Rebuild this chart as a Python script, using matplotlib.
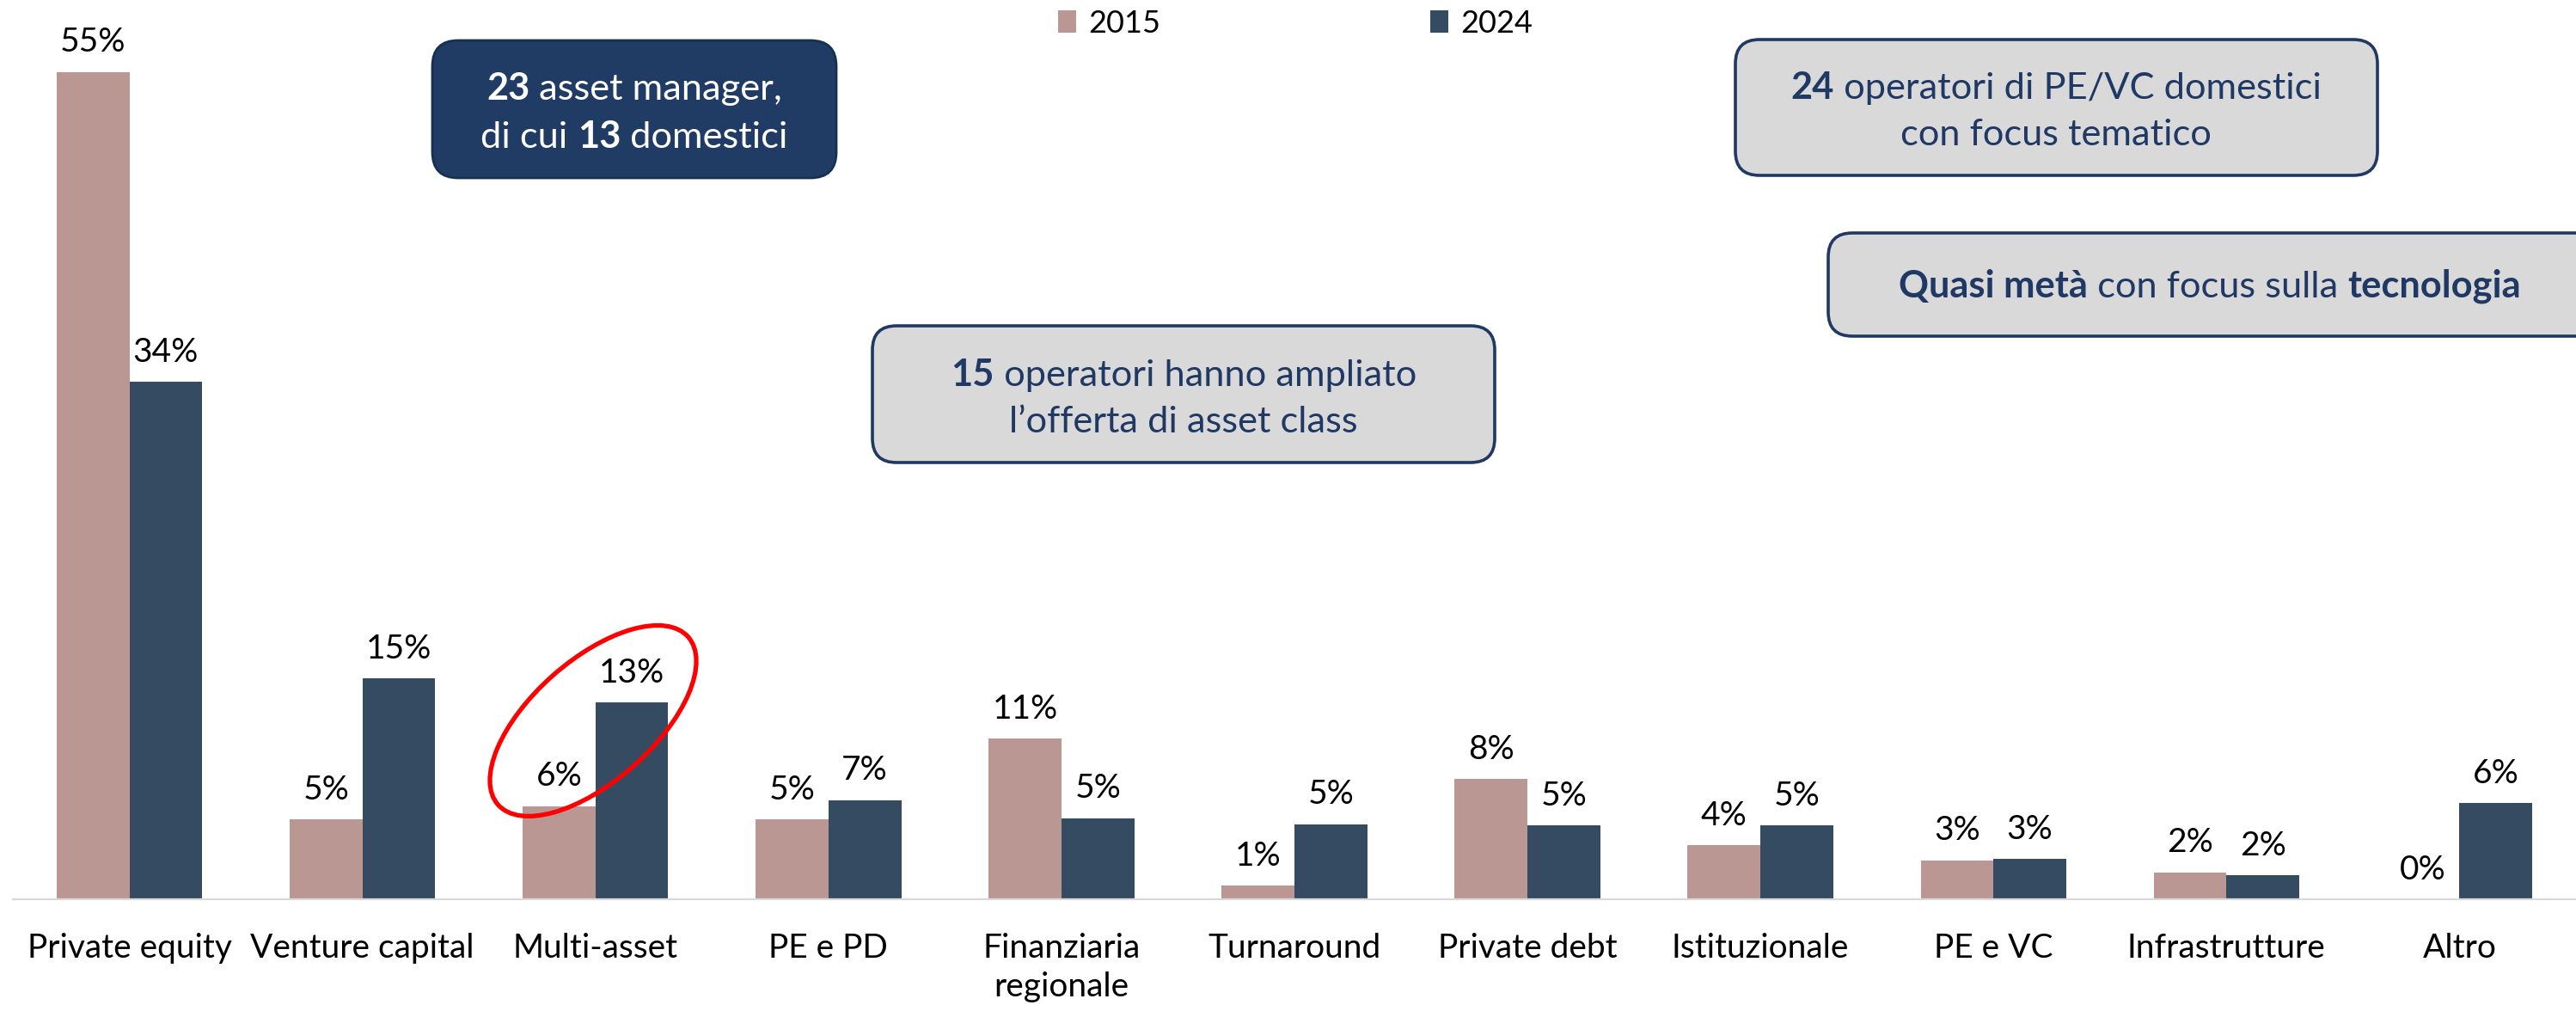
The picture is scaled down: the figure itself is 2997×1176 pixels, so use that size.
import matplotlib
matplotlib.use("Agg")
import matplotlib.pyplot as plt
from matplotlib.patches import FancyBboxPatch, Ellipse, Patch
from matplotlib.offsetbox import TextArea, HPacker, VPacker, AnnotationBbox
import numpy as np

# ---------------- data ----------------
categories = ["Private equity", "Venture capital", "Multi-asset", "PE e PD",
              "Finanziaria\nregionale", "Turnaround", "Private debt",
              "Istituzionale", "PE e VC", "Infrastrutture", "Altro"]
share_2015 = [55.0, 5.3, 6.2, 5.3, 10.7, 0.9, 8.0, 3.6, 2.6, 1.8, 0.0]
share_2024 = [34.4, 14.7, 13.1, 6.6, 5.4, 5.0, 4.9, 4.9, 2.7, 1.6, 6.4]
series_names = ["2015", "2024"]

# ---------------- style ----------------
plt.rcParams["font.family"] = ["Lato", "DejaVu Sans"]
C15 = "#BA9793"
C24 = "#354B61"
NAVY = "#1F3864"
W, H, DPI = 2997, 1176, 200

fig = plt.figure(figsize=(W / DPI, H / DPI), dpi=DPI)
base_px = 1046
px_per_pct = 17.5
ymax = 58
ax = fig.add_axes([15 / W, 1 - base_px / H, (W - 15) / W, ymax * px_per_pct / H])

x = np.arange(len(categories))
bw = 0.3125
ax.bar(x - bw / 2, share_2015, bw, color=C15, label=series_names[0])
ax.bar(x + bw / 2, share_2024, bw, color=C24, label=series_names[1])

for xs, vals in ((x - bw / 2, share_2015), (x + bw / 2, share_2024)):
    for xi, v in zip(xs, vals):
        ax.annotate(f"{round(v)}%", (xi, v), xytext=(0, 8.3), textcoords="offset points",
                    ha="center", va="baseline", fontsize=14, color="black")

ax.set_xlim(-0.5, len(categories) - 0.5)
ax.set_ylim(0, ymax)
ax.set_yticks([])
for s in ("top", "left", "right"):
    ax.spines[s].set_visible(False)
ax.spines["bottom"].set_color("#D9D9D9")
ax.spines["bottom"].set_linewidth(0.8)
ax.set_xticks(x)
ax.set_xticklabels(categories, fontsize=14, linespacing=1.3)
ax.tick_params(axis="x", length=0, pad=14)

ax.legend(handles=[Patch(facecolor=C15), Patch(facecolor=C24)], labels=series_names,
          ncol=2, frameon=False, loc="center left",
          bbox_to_anchor=(1231 / W, 1 - 27 / H), bbox_transform=fig.transFigure,
          fontsize=13, handlelength=0.58, handletextpad=0.39, columnspacing=8.7,
          borderpad=0, borderaxespad=0)


# ---------------- annotation boxes ----------------
def px_box(x0, y0, x1, y1, fc, ec, lw, r):
    p = FancyBboxPatch((x0 / DPI, (H - y1) / DPI), (x1 - x0) / DPI, (y1 - y0) / DPI,
                       boxstyle=f"round,pad=0,rounding_size={r / DPI}",
                       transform=fig.dpi_scale_trans, fc=fc, ec=ec, lw=lw, clip_on=False)
    fig.add_artist(p)


def rich_text(lines, cx, cy, color, size=15.6, sep=6):
    rows = []
    for line in lines:
        parts = [TextArea(t, textprops=dict(color=color, fontsize=size,
                                            fontweight="bold" if b else "normal"))
                 for t, b in line]
        rows.append(HPacker(children=parts, sep=0, pad=0, align="baseline"))
    box = VPacker(children=rows, sep=sep, pad=0, align="center")
    ab = AnnotationBbox(box, (cx, H - cy), xycoords="figure pixels", frameon=False,
                        box_alignment=(0.5, 0.5), pad=0, annotation_clip=False)
    fig.add_artist(ab)


px_box(503, 47, 973, 207, "#203C64", "#18304F", 1.0, 30)
rich_text([[("23", True), (" asset manager,", False)],
           [("di cui ", False), ("13", True), (" domestici", False)]],
          738, 131, "white")

px_box(2019, 46, 2766, 204, "#D9D9D9", NAVY, 1.3, 28)
rich_text([[("24", True), (" operatori di PE/VC domestici", False)],
           [("con focus tematico", False)]],
          2392, 129, NAVY)

px_box(2127, 271, 3030, 391, "#D9D9D9", NAVY, 1.3, 28)
rich_text([[("Quasi metà", True), (" con focus sulla ", False), ("tecnologia", True)]],
          2571, 333, NAVY)

px_box(1015, 379, 1739, 538, "#D9D9D9", NAVY, 1.3, 28)
rich_text([[("15", True), (" operatori hanno ampliato", False)],
           [("l\u2019offerta di asset class", False)]],
          1377, 463, NAVY)

# ---------------- red ellipse around Multi-asset ----------------
ctr_disp = ax.transData.transform((1.99, 11.86))
ctr_in = fig.dpi_scale_trans.inverted().transform(ctr_disp)
ell = Ellipse(ctr_in, width=295 / DPI, height=141 / DPI, angle=41.4,
              transform=fig.dpi_scale_trans, fill=False, ec="#FF0000", lw=1.9, clip_on=False)
fig.add_artist(ell)

fig.savefig("out.png", dpi=DPI)
